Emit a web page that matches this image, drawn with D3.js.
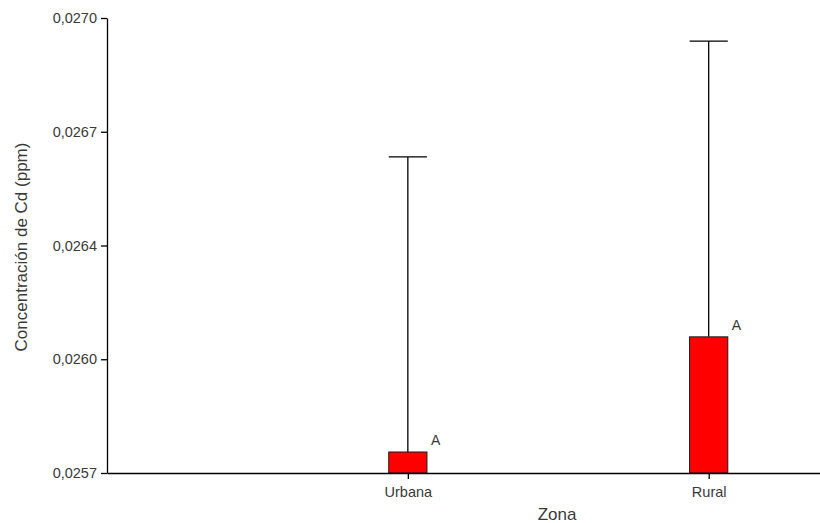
<!DOCTYPE html>
<html>
<head>
<meta charset="utf-8">
<script src="https://cdn.jsdelivr.net/npm/d3@7"></script>
<style>
  body { margin: 0; background: #fff; }
  svg { display: block; font-family: "Liberation Sans", Arial, sans-serif; }
</style>
</head>
<body>
<div id="chart"></div>
<script>
const zones = ["Urbana", "Rural"];
const means = [0.02576, 0.026089];
const upper = [0.026603, 0.026934];
const groupLetters = ["A", "A"];
const yTicks = [0.0257, 0.026025, 0.02635, 0.026675, 0.0270];
const yTickLabels = ["0,0257", "0,0260", "0,0264", "0,0267", "0,0270"];

const width = 820;
const height = 523;

const svg = d3.select("#chart")
  .append("svg")
  .attr("width", width)
  .attr("height", height);

const x = d3.scaleLinear()
  .domain([0, 2.37])
  .range([107, 820]);

const y = d3.scaleLinear()
  .domain([0.0257, 0.0270])
  .range([473, 18]);

const barW = 0.127;
const textColor = "#3a3a3a";

// bars + error bars
zones.forEach((z, i) => {
  const cx = x(i + 1);
  const bw = x(barW) - x(0);

  svg.append("line")
    .attr("x1", cx).attr("x2", cx)
    .attr("y1", y(means[i])).attr("y2", y(upper[i]))
    .attr("stroke", "#000")
    .attr("stroke-width", 1.3);

  svg.append("line")
    .attr("x1", cx - bw / 2).attr("x2", cx + bw / 2)
    .attr("y1", y(upper[i])).attr("y2", y(upper[i]))
    .attr("stroke", "#000")
    .attr("stroke-width", 1.3);

  svg.append("rect")
    .attr("x", cx - bw / 2)
    .attr("y", y(means[i]))
    .attr("width", bw)
    .attr("height", y(0.0257) - y(means[i]))
    .attr("fill", "#ff0000")
    .attr("stroke", "#1a1a1a")
    .attr("stroke-width", 1);

  svg.append("text")
    .attr("x", cx + bw / 2 + 4)
    .attr("y", y(means[i]) - 7)
    .attr("font-size", 14)
    .attr("fill", textColor)
    .text(groupLetters[i]);
});

// x axis
const xAxis = svg.append("g")
  .attr("transform", `translate(0,${y(0.0257)})`)
  .call(d3.axisBottom(x)
    .tickValues([1, 2])
    .tickFormat((d) => zones[d - 1])
    .tickSize(6)
    .tickSizeOuter(0));
xAxis.select(".domain").attr("stroke", "#000").attr("stroke-width", 1.3);
xAxis.selectAll(".tick line").attr("stroke", "#000").attr("stroke-width", 1.3);
xAxis.selectAll(".tick text")
  .attr("font-size", 14.5)
  .attr("font-family", "Liberation Sans, Arial, sans-serif")
  .attr("fill", textColor)
  .attr("dy", "1.03em");

// y axis
const yAxis = svg.append("g")
  .attr("transform", `translate(${x(0)},0)`)
  .call(d3.axisLeft(y)
    .tickValues(yTicks)
    .tickFormat((d, i) => yTickLabels[i])
    .tickSize(6)
    .tickSizeOuter(0));
yAxis.select(".domain").attr("stroke", "#000").attr("stroke-width", 1.3);
yAxis.selectAll(".tick line").attr("stroke", "#000").attr("stroke-width", 1.3);
yAxis.selectAll(".tick text")
  .attr("font-size", 14.5)
  .attr("font-family", "Liberation Sans, Arial, sans-serif")
  .attr("fill", textColor)
  .attr("x", -10);

// axis titles
svg.append("text")
  .attr("x", 557)
  .attr("y", 520)
  .attr("text-anchor", "middle")
  .attr("font-size", 17)
  .attr("fill", textColor)
  .text("Zona");

svg.append("text")
  .attr("transform", "rotate(-90)")
  .attr("x", -247)
  .attr("y", 27)
  .attr("text-anchor", "middle")
  .attr("font-size", 17)
  .attr("fill", textColor)
  .text("Concentración de Cd (ppm)");
</script>
</body>
</html>
